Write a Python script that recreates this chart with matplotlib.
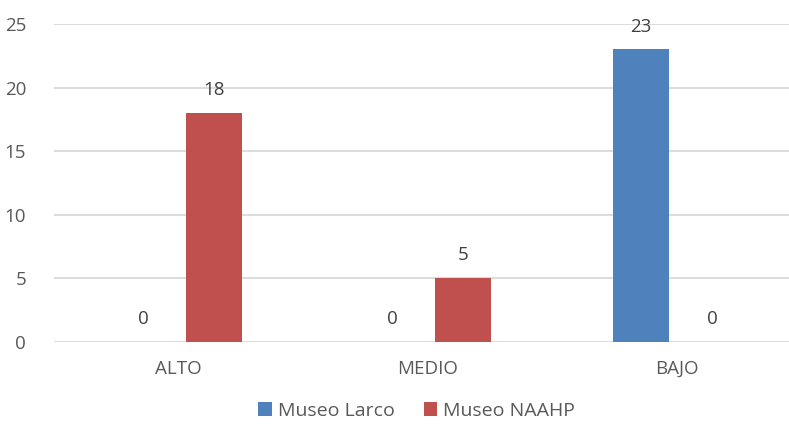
import matplotlib.pyplot as plt
import numpy as np

categories = ["ALTO", "MEDIO", "BAJO"]
larco = [0, 0, 23]
naahp = [18, 5, 0]

blue = "#4F81BD"
red = "#C0504D"
text_color = "#595959"

plt.rcParams['font.family'] = ['Open Sans', 'DejaVu Sans']

W, H = 789, 430
fig = plt.figure(figsize=(W / 100, H / 100), dpi=100)

# plot area in pixels: left 54, right ~801 (cut off), y0 at 342, y25 at 24
left, right, bottom, top = 54, 801, 342, 24
ax = fig.add_axes([left / W, (H - bottom) / H, (right - left) / W, (bottom - top) / H])

x = np.arange(len(categories))
offset = 0.143
width = 0.225

b1 = ax.bar(x - offset, larco, width, color=blue, label="Museo Larco", zorder=3)
b2 = ax.bar(x + offset, naahp, width, color=red, label="Museo NAAHP", zorder=3)

# value labels
for bars in (b1, b2):
    for rect in bars:
        h = rect.get_height()
        ax.annotate(str(int(h)), (rect.get_x() + rect.get_width() / 2, h),
                    xytext=(0, 16.5), textcoords="offset points",
                    ha="center", va="center", fontsize=13.5, color="#404040")

ax.set_xlim(-0.5, 2.5)
ax.set_ylim(0, 25)
ax.set_yticks(range(0, 26, 5))
ax.set_xticks(x)
ax.set_xticklabels(categories)

ax.grid(axis="y", color="#D9D9D9", linewidth=1.3, zorder=0)
for s in ax.spines.values():
    s.set_visible(False)
ax.tick_params(axis="both", length=0, labelsize=13.5, colors=text_color)
ax.tick_params(axis="y", pad=20)
ax.tick_params(axis="x", pad=13)

fig.legend(handles=[b1, b2], loc="center", bbox_to_anchor=(0.528, 1 - 411 / H),
           ncol=2, frameon=False, fontsize=14, handlelength=0.7, handleheight=0.7,
           handletextpad=0.3, columnspacing=1.5, labelcolor=text_color)

fig.savefig("out.png", dpi=100)
